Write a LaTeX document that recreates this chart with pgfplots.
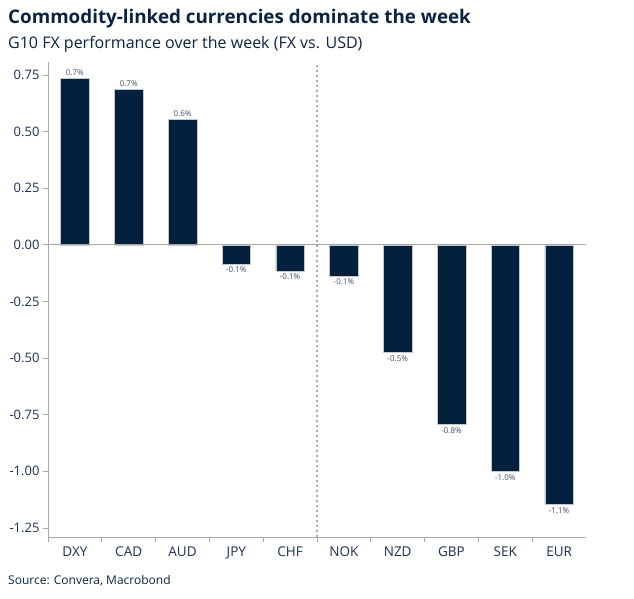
\documentclass[border=0pt]{standalone}
\usepackage{pgfplots}
\pgfplotsset{compat=1.18}
\usepackage{fontspec}
\setmainfont{Open Sans}
\definecolor{navy}{HTML}{03203F}
\definecolor{ttl}{HTML}{0B2343}
\definecolor{txt}{HTML}{1B3050}
\definecolor{axg}{HTML}{A8A8A8}
\begin{document}
\begin{tikzpicture}
\useasboundingbox (0pt,0pt) rectangle (634pt,-598pt);
\node[anchor=base west, inner sep=0, text=ttl, font=\fontsize{18.8}{20}\selectfont\bfseries] at (8pt,-23pt) {Commodity-linked currencies dominate the week};
\node[anchor=base west, inner sep=0, text=ttl, font=\fontsize{16}{18}\selectfont] at (8pt,-48pt) {G10 FX performance over the week (FX vs. USD)};
\node[anchor=base west, inner sep=0, text=ttl, font=\fontsize{12}{13}\selectfont] at (8pt,-584pt) {Source: Convera, Macrobond};
\begin{axis}[
  at={(48pt,-537pt)}, anchor=south west,
  scale only axis, width=538pt, height=475pt,
  xmin=-0.5, xmax=9.5, ymin=-1.29, ymax=0.807,
  axis lines=left, axis line style={-, draw=axg, line width=0.8pt},
  tick style={draw=axg, line width=0.8pt}, tick align=outside, major tick length=5pt,
  ytick={-1.25,-1,-0.75,-0.5,-0.25,0,0.25,0.5,0.75},
  yticklabel style={/pgf/number format/fixed, /pgf/number format/fixed zerofill, /pgf/number format/precision=2, /pgf/number format/assume math mode=true, font=\fontsize{13}{14}\selectfont, text=txt},
  xtick={-0.5,0.5,1.5,2.5,3.5,4.5,5.5,6.5,7.5,8.5}, xticklabels={},
  extra x ticks={0,1,2,3,4,5,6,7,8,9},
  extra x tick labels={DXY,CAD,AUD,JPY,CHF,NOK,NZD,GBP,SEK,EUR},
  extra x tick style={major tick length=0pt, tick style={draw=none}, xticklabel style={font=\fontsize{13.5}{15}\selectfont, text=txt, yshift=-6pt}},
  clip=false,
]
\addplot[ybar, bar width=0.53, bar shift=0pt, fill=navy, draw=gray!45, line width=0.5pt,
  point meta=explicit symbolic, nodes near coords,
  every node near coord/.append style={font=\fontsize{8}{9}\selectfont, text=txt!85, inner sep=2pt, anchor=south}]
  coordinates {
  (0,0.736) [0.7\%]
  (1,0.687) [0.7\%]
  (2,0.555) [0.6\%]
  };
\addplot[ybar, bar width=0.53, bar shift=0pt, fill=navy, draw=gray!45, line width=0.5pt,
  point meta=explicit symbolic, nodes near coords,
  every node near coord/.append style={font=\fontsize{8}{9}\selectfont, text=txt!85, inner sep=3pt, anchor=north}]
  coordinates {
  (3,-0.084) [-0.1\%]
  (4,-0.115) [-0.1\%]
  (5,-0.137) [-0.1\%]
  (6,-0.476) [-0.5\%]
  (7,-0.793) [-0.8\%]
  (8,-1.0) [-1.0\%]
  (9,-1.145) [-1.1\%]
  };
\draw[axg, line width=0.8pt] (axis cs:-0.5,0) -- (axis cs:9.5,0);
\draw[axg, line width=1.2pt, dash pattern=on 2.5pt off 2.5pt] (axis cs:4.5,-1.29) -- (axis cs:4.5,0.807);
\end{axis}
\end{tikzpicture}
\end{document}
